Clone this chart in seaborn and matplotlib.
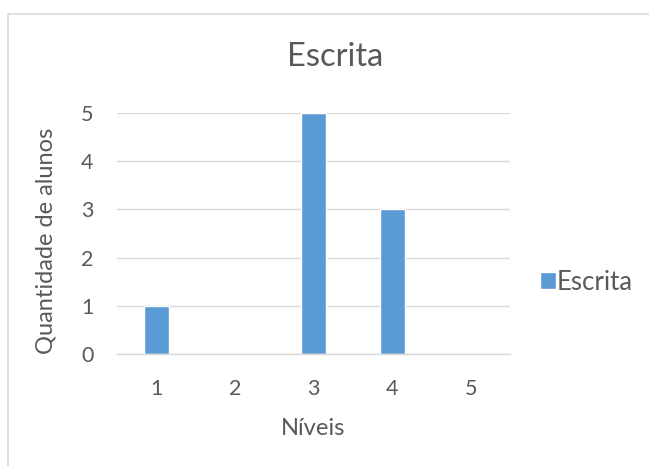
import matplotlib
matplotlib.use("Agg")
import matplotlib.pyplot as plt
from matplotlib.lines import Line2D
from matplotlib.patches import Patch
import pandas as pd
import seaborn as sns

# dados do gráfico
niveis = ["1", "2", "3", "4", "5"]
quantidade = [1, 0, 5, 3, 0]
serie = "Escrita"

cor_barra = "#5B9BD5"
cor_texto = "#595959"
cor_grade = "#D9D9D9"

sns.set_theme(style="white")
plt.rcParams["font.family"] = ["Lato", "DejaVu Sans"]

df = pd.DataFrame({"Níveis": niveis, "Quantidade": quantidade})

W, H = 649, 466
fig = plt.figure(figsize=(W / 100, H / 100), dpi=100)
ax = fig.add_axes([117 / W, 112 / H, 393 / W, 241 / H])

sns.barplot(data=df, x="Níveis", y="Quantidade", color=cor_barra,
            width=0.32, saturation=1, ax=ax)

ax.set_ylim(0, 5)
ax.set_xlim(-0.5, 4.5)
ax.set_yticks(range(0, 6))
ax.yaxis.grid(True, color=cor_grade, linewidth=1)
ax.set_axisbelow(True)
for lado in ["top", "right", "left"]:
    ax.spines[lado].set_visible(False)
ax.spines["bottom"].set_color(cor_grade)
ax.spines["bottom"].set_linewidth(1)

ax.tick_params(axis="both", length=0, labelsize=15.5, colors=cor_texto)
ax.tick_params(axis="y", pad=17)
ax.tick_params(axis="x", pad=18)

ax.set_xlabel("Níveis", fontsize=17, color=cor_texto, labelpad=14)
ax.set_ylabel("Quantidade de alunos", fontsize=17, color=cor_texto)
ax.yaxis.set_label_coords(-0.155, 0.47)

fig.text(335 / W, 1 - 57 / H, "Escrita", fontsize=23.5, color=cor_texto,
         ha="center", va="center")

fig.legend(handles=[Patch(facecolor=cor_barra, label=serie)],
           loc="center left", bbox_to_anchor=(517 / W, 1 - 282 / H),
           frameon=False, fontsize=18.5, labelcolor=cor_texto,
           handlelength=0.6, handleheight=0.6, handletextpad=0.05)

# borda da área do gráfico
fig.add_artist(Line2D([8 / W, 8 / W], [0, 1 - 14 / H], color=cor_grade, linewidth=1.2))
fig.add_artist(Line2D([8 / W, 1], [1 - 14 / H, 1 - 14 / H], color=cor_grade, linewidth=1.2))

fig.savefig("out.png", dpi=100)
